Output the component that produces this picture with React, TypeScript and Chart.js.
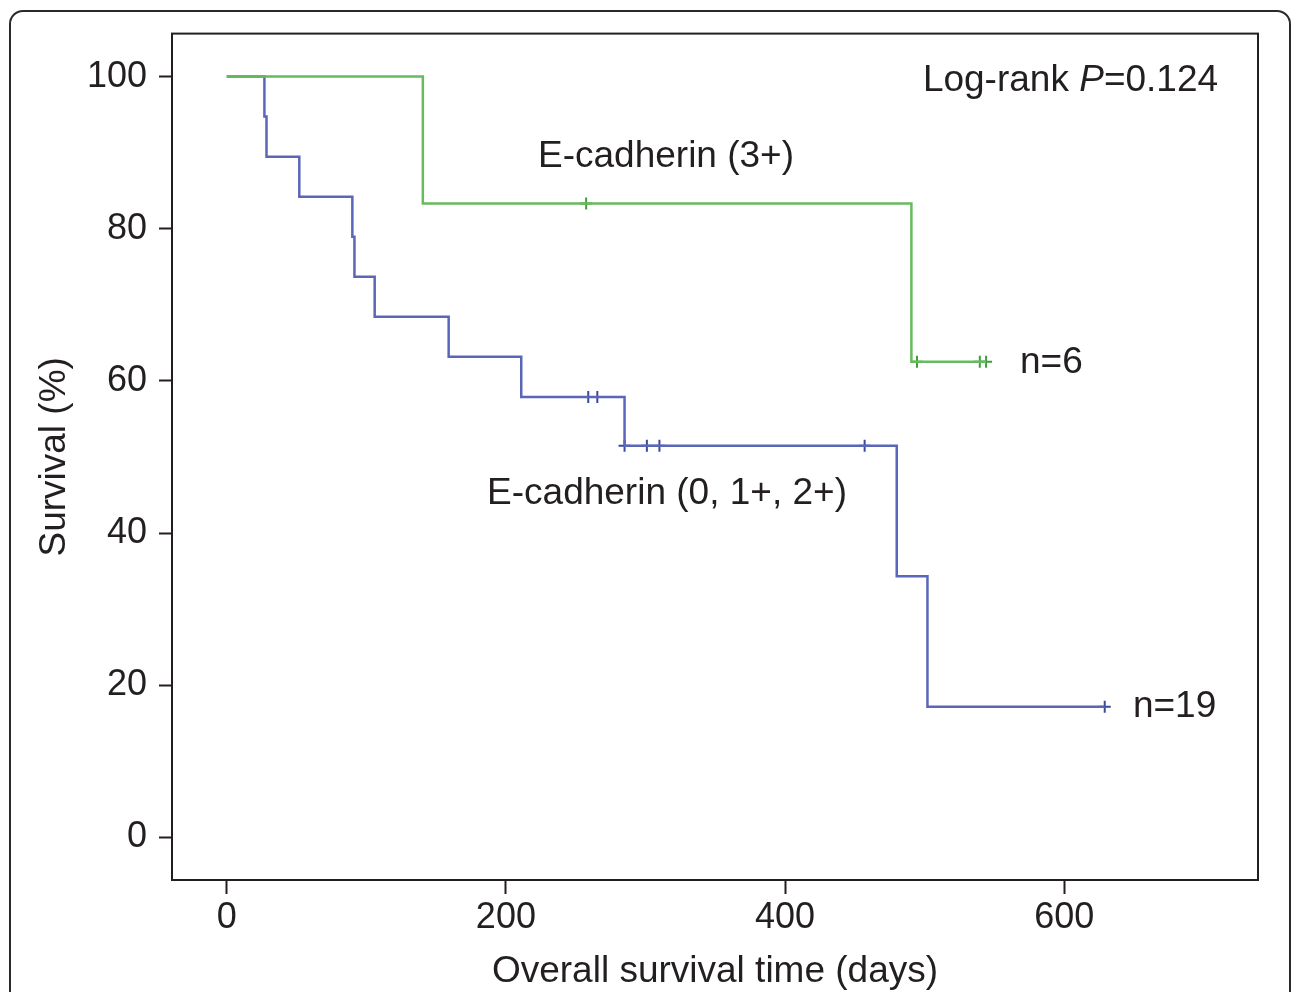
import React, { useEffect, useRef } from "react";
import { Chart, registerables } from "chart.js";

Chart.register(...registerables);

// ---- data ----
const xTickValues = [0, 200, 400, 600];
const yTickValues = [0, 20, 40, 60, 80, 100];

// E-cadherin (0, 1+, 2+)  n=19
const lowTimes = [0, 27, 28.5, 52, 90, 91.5, 106, 159, 211, 285, 480, 502, 629];
const lowSurvival = [100, 94.74, 89.47, 84.21, 78.95, 73.68, 68.42, 63.16, 57.89, 51.46, 34.31, 17.15, 17.15];
const lowCensorTimes = [259, 265.5, 285, 301, 310, 457, 629];
const lowCensorSurvival = [57.89, 57.89, 51.46, 51.46, 51.46, 51.46, 17.15];

// E-cadherin (3+)  n=6
const highTimes = [0, 140.5, 490.5, 544];
const highSurvival = [100, 83.33, 62.5, 62.5];
const highCensorTimes = [257.5, 494.5, 539.5, 544];
const highCensorSurvival = [83.33, 62.5, 62.5, 62.5];

const xTitle = "Overall survival time (days)";
const yTitle = "Survival (%)";

// ---- text annotations (placed in data coordinates) ----
const labelTexts = ["E-cadherin (3+)", "E-cadherin (0, 1+, 2+)", "n=6", "n=19"];
const labelX = [223, 186.5, 568.3, 649.2];
const labelY = [89.4, 45.1, 62.4, 17.1];
const pTextParts = ["Log-rank ", "P", "=0.124"];
const pTextRightX = 710.2;
const pTextY = 99.5;

const FONT = '"Liberation Sans", Arial, Helvetica, sans-serif';
const TEXT_COLOR = "#231f20";
const GREEN = "#66bb5e";
const GREEN_DARK = "#3e9e3c";
const BLUE = "#5a66b8";
const BLUE_DARK = "#3a479f";

const zip = (xs: number[], ys: number[]) => xs.map((x, i) => ({ x, y: ys[i] }));

const framePlugin = {
  id: "frame",
  afterDraw(chart: any) {
    const { ctx, chartArea } = chart;
    ctx.save();
    ctx.strokeStyle = TEXT_COLOR;
    ctx.lineWidth = 2;
    ctx.strokeRect(chartArea.left, chartArea.top, chartArea.right - chartArea.left, chartArea.bottom - chartArea.top);
    ctx.restore();
  },
};

const textPlugin = {
  id: "kmText",
  afterDatasetsDraw(chart: any) {
    const { ctx, scales } = chart;
    const xs = scales.x;
    const ys = scales.y;
    ctx.save();
    ctx.fillStyle = TEXT_COLOR;
    ctx.textBaseline = "middle";
    ctx.textAlign = "left";
    ctx.font = `37px ${FONT}`;
    labelTexts.forEach((t, i) => {
      ctx.fillText(t, xs.getPixelForValue(labelX[i]), ys.getPixelForValue(labelY[i]));
    });
    const fonts = [`37px ${FONT}`, `italic 37px ${FONT}`, `37px ${FONT}`];
    let total = 0;
    const widths = pTextParts.map((p, i) => {
      ctx.font = fonts[i];
      const w = ctx.measureText(p).width;
      total += w;
      return w;
    });
    let x = xs.getPixelForValue(pTextRightX) - total;
    const y = ys.getPixelForValue(pTextY);
    pTextParts.forEach((p, i) => {
      ctx.font = fonts[i];
      ctx.fillText(p, x, y);
      x += widths[i];
    });
    ctx.restore();
  },
};

export default function App() {
  const canvasRef = useRef<HTMLCanvasElement>(null);

  useEffect(() => {
    const canvas = canvasRef.current;
    if (!canvas) return;
    const chart = new Chart(canvas, {
      type: "scatter",
      data: {
        datasets: [
          {
            label: "E-cadherin (3+)",
            data: zip(highTimes, highSurvival),
            showLine: true,
            stepped: "before",
            borderColor: GREEN,
            borderWidth: 2.5,
            pointRadius: 0,
            fill: false,
          },
          {
            label: "E-cadherin (3+) censored",
            data: zip(highCensorTimes, highCensorSurvival),
            showLine: false,
            pointStyle: "cross",
            pointRadius: 6,
            pointBorderWidth: 2,
            borderColor: GREEN_DARK,
            backgroundColor: GREEN_DARK,
          },
          {
            label: "E-cadherin (0, 1+, 2+)",
            data: zip(lowTimes, lowSurvival),
            showLine: true,
            stepped: "before",
            borderColor: BLUE,
            borderWidth: 2.5,
            pointRadius: 0,
            fill: false,
          },
          {
            label: "E-cadherin (0, 1+, 2+) censored",
            data: zip(lowCensorTimes, lowCensorSurvival),
            showLine: false,
            pointStyle: "cross",
            pointRadius: 6,
            pointBorderWidth: 2,
            borderColor: BLUE_DARK,
            backgroundColor: BLUE_DARK,
          },
        ],
      },
      options: {
        responsive: false,
        animation: false,
        devicePixelRatio: 1,
        layout: { padding: { left: 0, top: 33, right: 34, bottom: 0 } },
        plugins: {
          legend: { display: false },
          tooltip: { enabled: false },
        },
        scales: {
          x: {
            type: "linear",
            min: -39.2,
            max: 738.8,
            afterFit: (s: any) => {
              s.height = 112;
            },
            afterBuildTicks: (s: any) => {
              s.ticks = xTickValues.map((v) => ({ value: v }));
            },
            border: { display: false },
            grid: {
              display: true,
              drawOnChartArea: false,
              drawTicks: true,
              tickLength: 14,
              tickWidth: 2,
              tickColor: TEXT_COLOR,
              color: TEXT_COLOR,
            },
            ticks: {
              color: TEXT_COLOR,
              font: { family: FONT, size: 36 },
              padding: 2,
              maxRotation: 0,
              autoSkip: false,
            },
            title: {
              display: true,
              text: xTitle,
              color: TEXT_COLOR,
              font: { family: FONT, size: 37, lineHeight: 1.1 },
              padding: { top: 0, bottom: 0 },
            },
          },
          y: {
            type: "linear",
            min: -5.61,
            max: 105.65,
            afterFit: (s: any) => {
              s.width = 172;
            },
            afterBuildTicks: (s: any) => {
              s.ticks = yTickValues.map((v) => ({ value: v }));
            },
            border: { display: false },
            grid: {
              display: true,
              drawOnChartArea: false,
              drawTicks: true,
              tickLength: 13,
              tickWidth: 2,
              tickColor: TEXT_COLOR,
              color: TEXT_COLOR,
            },
            ticks: {
              color: TEXT_COLOR,
              font: { family: FONT, size: 36 },
              padding: 12,
              autoSkip: false,
            },
            title: {
              display: true,
              text: yTitle,
              color: TEXT_COLOR,
              font: { family: FONT, size: 37, lineHeight: 1.2 },
              padding: { top: 33, bottom: 0 },
            },
          },
        },
      },
      plugins: [framePlugin, textPlugin],
    } as any);
    return () => chart.destroy();
  }, []);

  return (
    <div
      style={{
        position: "absolute",
        left: 0,
        top: 0,
        width: 1292,
        height: 992,
        overflow: "hidden",
        background: "#ffffff",
      }}
    >
      <div
        style={{
          position: "absolute",
          left: 9,
          top: 10,
          width: 1282,
          height: 1020,
          border: "2px solid #2a2a2a",
          borderRadius: 14,
          boxSizing: "border-box",
        }}
      />
      <canvas
        ref={canvasRef}
        width={1292}
        height={992}
        style={{ position: "absolute", left: 0, top: 0, width: 1292, height: 992 }}
      />
    </div>
  );
}
